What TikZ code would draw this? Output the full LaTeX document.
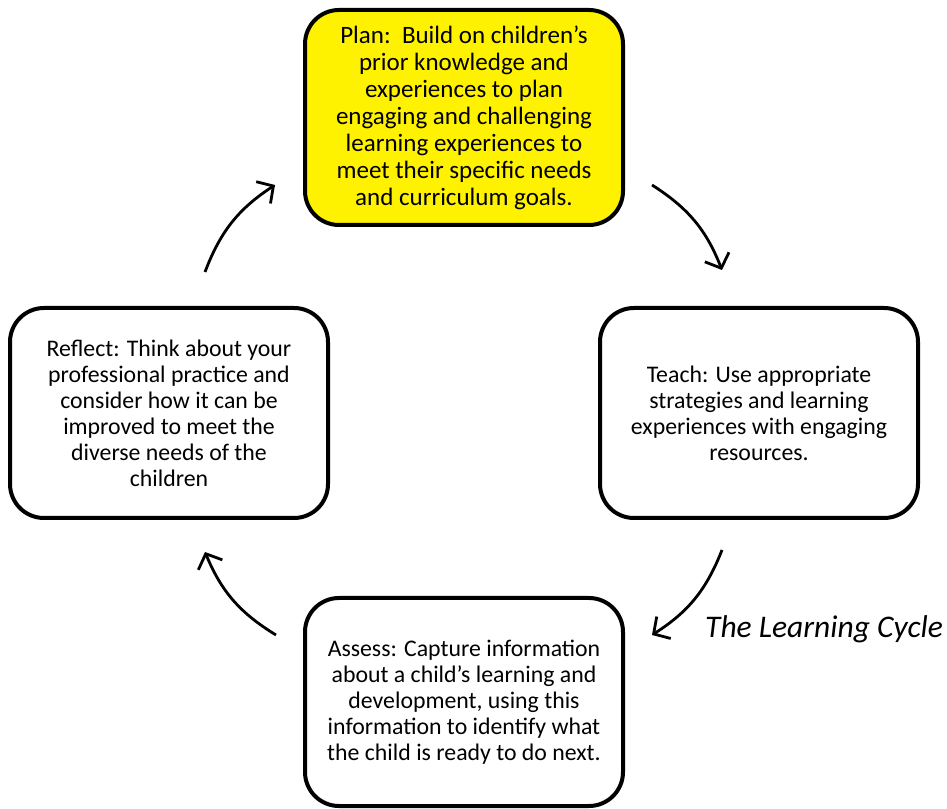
\documentclass[tikz,border=0pt]{standalone}
\usepackage{fontspec}
\setmainfont{Carlito}
\usetikzlibrary{arrows.meta}
\begin{document}
\begin{tikzpicture}[x=1pt,y=1pt,
  stagebox/.style={draw=black, line width=4pt, rounded corners=34pt, fill=white,
    minimum width=318pt, align=center, inner sep=4pt},
  cyclearrow/.style={line width=2.8pt, -{Straight Barb[length=12pt,width=26pt,line width=2.8pt]}, bend left=18}
]
\useasboundingbox (0,0) rectangle (947,808);
\node[stagebox, fill=yellow, minimum height=215pt, font=\fontsize{25}{27}\selectfont] (plan) at (464,690.5)
  {Plan:\ \ Build on children’s\\prior knowledge and\\experiences to plan\\engaging and challenging\\learning experiences to\\meet their specific needs\\and curriculum goals.};
\node[stagebox, minimum height=210pt, font=\fontsize{23.8}{26}\selectfont] (reflect) at (169,395)
  {Reflect: Think about your\\professional practice and\\consider how it can be\\improved to meet the\\diverse needs of the\\children};
\node[stagebox, minimum height=210pt, font=\fontsize{23.8}{26}\selectfont] (teach) at (759,395)
  {Teach: Use appropriate\\strategies and learning\\experiences with engaging\\resources.};
\node[stagebox, minimum height=208pt, font=\fontsize{23.8}{26}\selectfont] (assess) at (464,106)
  {Assess: Capture information\\about a child’s learning and\\development, using this\\information to identify what\\the child is ready to do next.};
\node[font=\fontsize{31.5}{36}\selectfont\itshape, anchor=west, inner sep=0pt] (label) at (705,179) {The Learning Cycle};
\coordinate (a1s) at (205,536);
\coordinate (a1e) at (275,623);
\coordinate (a2s) at (652,623);
\coordinate (a2e) at (722,538);
\coordinate (a3s) at (722,258);
\coordinate (a3e) at (652,173);
\coordinate (a4s) at (276,173);
\coordinate (a4e) at (205,256);
\draw[cyclearrow] (a1s) to (a1e);
\draw[cyclearrow] (a2s) to (a2e);
\draw[cyclearrow] (a3s) to (a3e);
\draw[cyclearrow] (a4s) to (a4e);
\end{tikzpicture}
\end{document}
